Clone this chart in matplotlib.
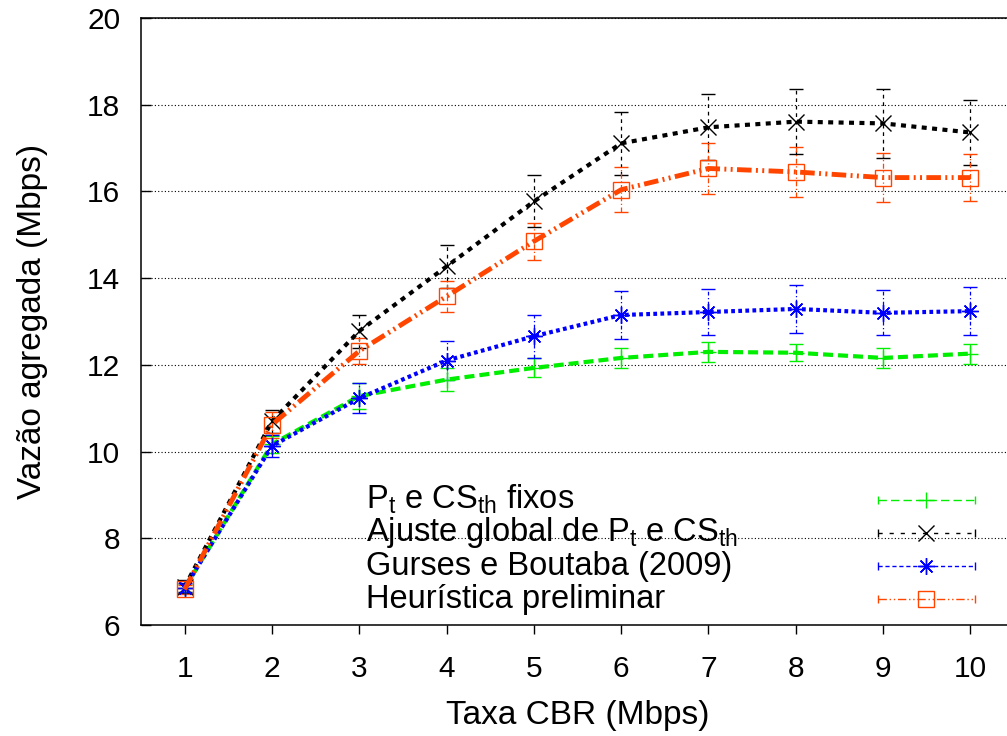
import matplotlib
matplotlib.use('Agg')
import matplotlib.pyplot as plt

plt.rcParams['font.family'] = ['Liberation Sans', 'DejaVu Sans']
plt.rcParams['mathtext.fontset'] = 'custom'
plt.rcParams['mathtext.rm'] = 'Liberation Sans'
plt.rcParams['mathtext.it'] = 'Liberation Sans'

# data
taxa_cbr = [1, 2, 3, 4, 5, 6, 7, 8, 9, 10]

fixos = [6.85, 10.17, 11.28, 11.66, 11.93, 12.16, 12.30, 12.28, 12.16, 12.26]
fixos_err = [0.10, 0.20, 0.30, 0.26, 0.22, 0.23, 0.23, 0.20, 0.23, 0.23]

ajuste = [6.88, 10.70, 12.78, 14.27, 15.77, 17.11, 17.48, 17.61, 17.57, 17.36]
ajuste_err = [0.15, 0.26, 0.38, 0.50, 0.60, 0.73, 0.76, 0.75, 0.79, 0.75]

gurses = [6.86, 10.13, 11.23, 12.10, 12.66, 13.15, 13.22, 13.29, 13.20, 13.24]
gurses_err = [0.10, 0.25, 0.35, 0.45, 0.50, 0.56, 0.53, 0.55, 0.52, 0.56]

heuristica = [6.82, 10.62, 12.32, 13.58, 14.85, 16.04, 16.53, 16.45, 16.32, 16.32]
heuristica_err = [0.10, 0.30, 0.30, 0.35, 0.42, 0.52, 0.59, 0.57, 0.57, 0.54]

labels = [r'P$_\mathrm{t}$ e CS$_\mathrm{th}$ fixos',
          r'Ajuste global de P$_\mathrm{t}$ e CS$_\mathrm{th}$',
          'Gurses e Boutaba (2009)',
          'Heurística preliminar']

# style per series: color, marker, line width, main dashes, errorbar style, key style
series = [
    (fixos, fixos_err, '#00ee00', '+', 3.0, (2.4, 1.2), '-', (0, (6, 3))),
    (ajuste, ajuste_err, 'black', 'x', 3.0, (1.2, 1.3), (0, (3, 3)), (0, (3, 5))),
    (gurses, gurses_err, '#0000ff', (8, 2, 0), 3.0, (0.9, 0.8), (0, (3, 2, 1, 2)), (0, (3, 2))),
    (heuristica, heuristica_err, '#ff4500', 's', 3.5, (3.0, 0.9, 0.4, 0.9, 0.4, 0.9),
     (0, (4, 2, 1, 2)), (0, (6, 2, 1, 2, 1, 2))),
]

fig = plt.figure(figsize=(10.07, 7.36), dpi=100)
ax = fig.add_axes([0.140, 0.1508, 0.867, 0.8247])

for vals, errs, color, marker, lw, dashes, ebstyle, keystyle in series:
    eb = ax.errorbar(taxa_cbr, vals, yerr=errs, color=color, lw=lw, dashes=dashes,
                     marker=marker, ms=12, mew=1.0, mfc='none', mec=color,
                     capsize=5, elinewidth=0.9, capthick=0.9)
    eb.lines[2][0].set_linestyle(ebstyle)

ax.set_xlim(0.5, 10.5)
ax.set_ylim(6, 20)
ax.set_xticks(taxa_cbr)
ax.set_yticks(range(6, 21, 2))
ax.grid(axis='y', linestyle=(0, (1, 2)), color='black', lw=0.8)
ax.set_axisbelow(True)

ax.spines['right'].set_visible(False)
for side in ['left', 'bottom', 'top']:
    ax.spines[side].set_linewidth(1.1)

ax.tick_params(axis='y', direction='in', length=7, width=1, pad=15, labelsize=21.5)
ax.tick_params(axis='x', direction='out', length=6.5, width=1, pad=15, labelsize=21.5)

ax.set_xlabel('Taxa CBR (Mbps)', fontsize=24)
ax.set_ylabel('Vazão agregada (Mbps)', fontsize=24)
ax.xaxis.set_label_coords(0.50, -0.124)
ax.yaxis.set_label_coords(-0.107, 0.5)

# gnuplot-style key: text on the left, sample on the right
key_x0, key_x1 = 0.844, 0.955
key_y0, key_dy = 0.206, 0.0544
for i, (lab, s) in enumerate(zip(labels, series)):
    color, marker, keystyle = s[2], s[3], s[7]
    y = key_y0 - i * key_dy
    ax.text(0.258, y - 0.0140, lab, transform=ax.transAxes, fontsize=23.5,
            ha='left', va='baseline')
    ax.plot([key_x0, key_x1], [y, y], transform=ax.transAxes, color=color,
            lw=1.0, ls=keystyle, clip_on=False)
    ax.plot([key_x0, key_x1], [y, y], transform=ax.transAxes, color=color,
            ls='none', marker='|', ms=6, mew=1.0, clip_on=False)
    ax.plot([(key_x0 + key_x1) / 2], [y], transform=ax.transAxes, color=color,
            ls='none', marker=marker, ms=12, mew=1.0, mfc='none', clip_on=False)

fig.savefig('out.png', dpi=100)
